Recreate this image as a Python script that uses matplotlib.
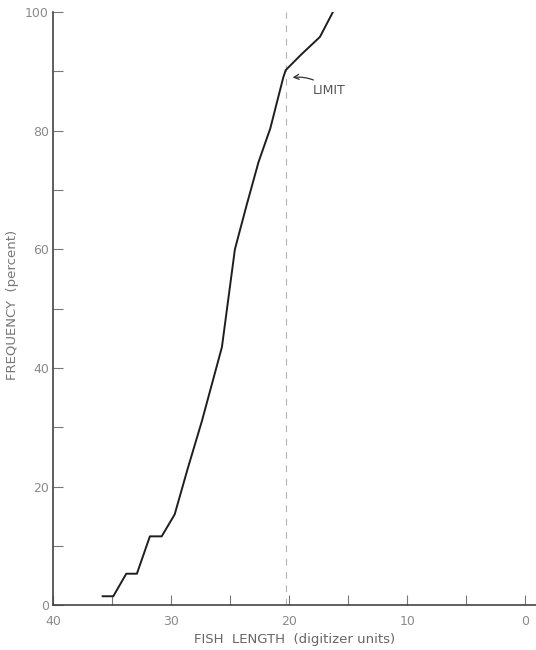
import matplotlib.pyplot as plt

# cumulative length-frequency curve
fish_length = [35.8, 34.9, 33.8, 32.9, 31.8, 30.8, 29.7, 28.6, 27.4,
               25.7, 24.6, 23.6, 22.6, 21.6, 20.5, 20.3, 19.0, 17.4, 16.3]
frequency = [1.5, 1.5, 5.3, 5.3, 11.6, 11.6, 15.3, 23.0, 31.0,
             43.5, 60.0, 67.5, 74.7, 80.4, 89.0, 90.2, 92.8, 95.8, 100.0]
limit_x = 20.3
limit_y = 90.2

x_major = [40, 30, 20, 10, 0]
x_minor = [35, 25, 15, 5]
y_major = [0, 20, 40, 60, 80, 100]
y_minor = [10, 30, 50, 70, 90]

text_grey = "#8a8a8a"

fig = plt.figure(figsize=(5.36, 6.5), dpi=100)
ax = fig.add_axes([0.099, 0.069, 0.901, 0.9125])

ax.plot(fish_length, frequency, color="#1e1e1e", lw=1.4)
ax.axvline(limit_x, color="#b5b5b5", lw=0.8, ls=(0, (6, 6)), zorder=0)

ax.annotate("LIMIT", xy=(limit_x - 0.35, limit_y - 1.3), xytext=(18.0, limit_y - 3.4),
            color="#555555", fontsize=9, va="center",
            arrowprops=dict(arrowstyle="->", color="#333333", lw=0.9,
                            connectionstyle="arc3,rad=0.25"))

ax.set_xlim(40, -0.9)
ax.set_ylim(0, 100)
ax.set_xticks(x_major)
ax.set_xticks(x_minor, minor=True)
ax.set_yticks(y_major)
ax.set_yticks(y_minor, minor=True)
ax.tick_params(which="both", direction="in", colors="#777777",
               labelcolor=text_grey, labelsize=9, length=7, width=0.8, pad=3)
ax.tick_params(axis="x", which="major", pad=7)

for side in ["top", "right"]:
    ax.spines[side].set_visible(False)
for side in ["left", "bottom"]:
    ax.spines[side].set_color("#444444")
    ax.spines[side].set_linewidth(1.2)

ax.set_xlabel("FISH  LENGTH  (digitizer units)", color="#666666", fontsize=9.5, labelpad=4)
ax.set_ylabel("FREQUENCY  (percent)", color="#777777", fontsize=9.5)
ax.yaxis.set_label_coords(-0.07, 0.506)

fig.savefig("out.png", dpi=100)
